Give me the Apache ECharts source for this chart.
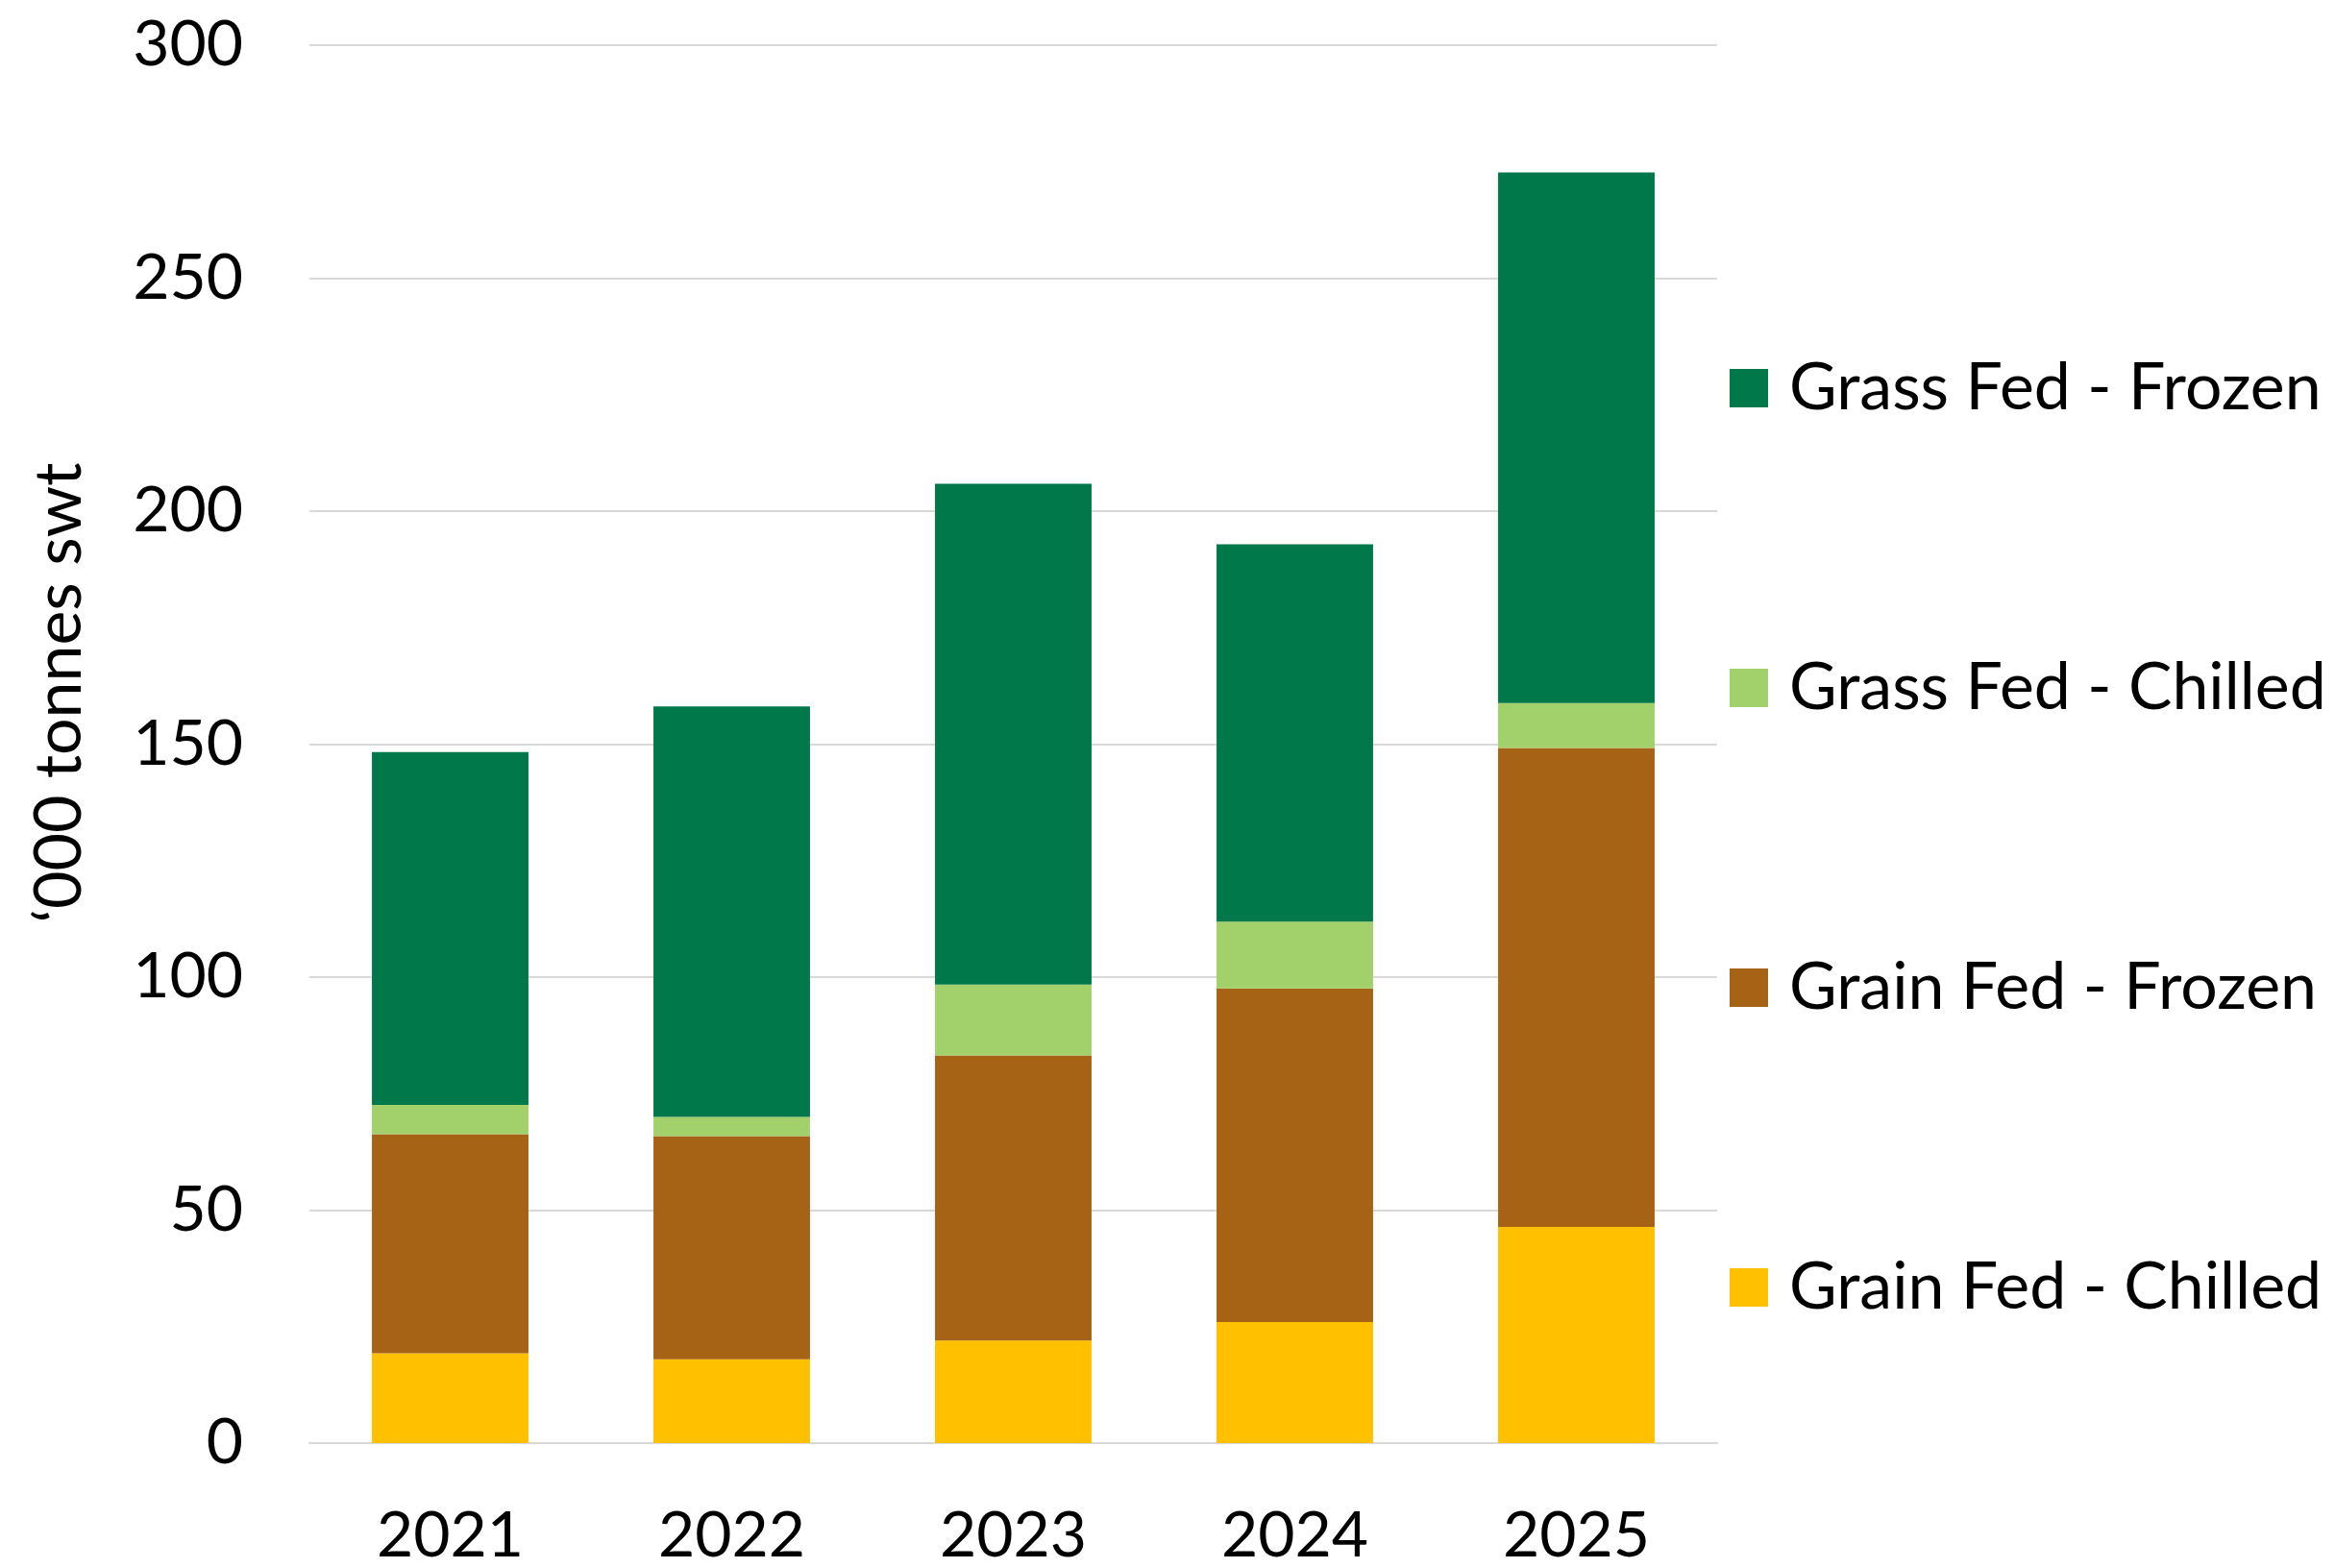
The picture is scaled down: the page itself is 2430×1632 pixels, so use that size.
<!DOCTYPE html>
<html>
<head>
<meta charset="utf-8">
<script src="https://cdn.jsdelivr.net/npm/echarts@6/dist/echarts.min.js"></script>
<style>
  html, body { margin: 0; padding: 0; background: #fff; }
  #chart { width: 2430px; height: 1632px; }
</style>
</head>
<body>
<div id="chart"></div>
<script>
const years = ['2021', '2022', '2023', '2024', '2025'];

// '000 tonnes swt, stacked bottom to top
const grainChilled = [19.3, 18.0, 22.0, 26.0, 46.4];
const grainFrozen = [47.0, 47.9, 61.2, 71.6, 102.8];
const grassChilled = [6.3, 4.1, 15.2, 14.3, 9.6];
const grassFrozen = [75.7, 88.1, 107.5, 81.0, 113.9];

const seriesNames = ['Grain Fed - Chilled', 'Grain Fed - Frozen', 'Grass Fed - Chilled', 'Grass Fed - Frozen'];
const legendOrder = ['Grass Fed - Frozen', 'Grass Fed - Chilled', 'Grain Fed - Frozen', 'Grain Fed - Chilled'];
const colors = ['#FFC000', '#A66315', '#A2D06A', '#00784A'];

const font = 'Lato, "Open Sans", sans-serif';

const makeBar = (name, data, color) => ({
  name: name,
  type: 'bar',
  stack: 'total',
  data: data,
  barWidth: '55.6%',
  itemStyle: { color: color },
  emphasis: { disabled: true },
});

const chart = echarts.init(document.getElementById('chart'));

chart.setOption({
  animation: false,
  backgroundColor: '#ffffff',
  textStyle: { fontFamily: font, color: '#000' },
  grid: { left: 322, right: 643, top: 47, bottom: 127 },
  legend: {
    orient: 'vertical',
    left: 1795,
    top: 365,
    data: legendOrder,
    icon: 'rect',
    itemWidth: 40,
    itemHeight: 40,
    itemGap: 244,
    textStyle: {
      fontFamily: font,
      fontSize: 68,
      lineHeight: 68,
      color: '#000',
      padding: [0, 0, 0, 17],
    },
  },
  xAxis: {
    type: 'category',
    data: years,
    axisTick: { show: false },
    axisLine: { lineStyle: { color: '#d9d9d9', width: 2 } },
    axisLabel: { fontSize: 66, color: '#000', margin: 64, fontFamily: font },
  },
  yAxis: {
    type: 'value',
    min: 0,
    max: 300,
    interval: 50,
    axisLine: { show: false },
    axisTick: { show: false },
    axisLabel: { fontSize: 66, color: '#000', margin: 69, fontFamily: font },
    splitLine: { lineStyle: { color: '#d9d9d9', width: 2 } },
  },
  graphic: [
    {
      type: 'text',
      x: 62,
      y: 721,
      rotation: Math.PI / 2,
      style: {
        text: '\u2018000 tonnes swt',
        fontFamily: font,
        fontSize: 68,
        fill: '#000',
        align: 'center',
        verticalAlign: 'middle',
      },
    },
  ],
  series: [
    makeBar(seriesNames[0], grainChilled, colors[0]),
    makeBar(seriesNames[1], grainFrozen, colors[1]),
    makeBar(seriesNames[2], grassChilled, colors[2]),
    makeBar(seriesNames[3], grassFrozen, colors[3]),
  ],
});
</script>
</body>
</html>
